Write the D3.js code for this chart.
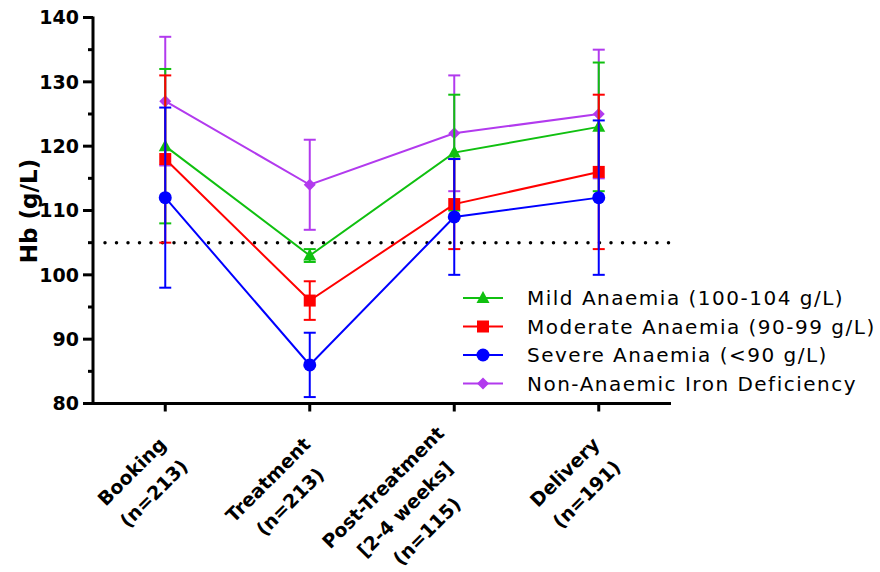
<!DOCTYPE html>
<html>
<head>
<meta charset="utf-8">
<script src="https://cdn.jsdelivr.net/npm/d3@7"></script>
<style>
  body { margin: 0; background: #fff; }
  svg { display: block; }
</style>
</head>
<body>
<svg width="880" height="572"></svg>
<script>
var categories = ["Booking|(n=213)", "Treatment|(n=213)", "Post-Treatment|[2-4 weeks]|(n=115)", "Delivery|(n=191)"];
var yTicks = [80, 90, 100, 110, 120, 130, 140];
var cutoff = 105;

var mildMean = [120, 103, 119, 123];
var mildSD = [12, 1, 9, 10];
var moderateMean = [118, 96, 111, 116];
var moderateSD = [13, 3, 7, 12];
var severeMean = [112, 86, 109, 112];
var severeSD = [14, 5, 9, 12];
var naidMean = [127, 114, 122, 125];
var naidSD = [10, 7, 9, 10];

var seriesNames = ["Mild Anaemia (100-104 g/L)", "Moderate Anaemia (90-99 g/L)", "Severe Anaemia (<90 g/L)", "Non-Anaemic Iron Deficiency"];

var svg = d3.select("svg");
var font = "'DejaVu Sans', sans-serif";

var plotLeft = 93, plotRight = 671, plotTop = 17.5, plotBottom = 403.5;

var x = d3.scalePoint().domain(categories).range([plotLeft, plotRight]).padding(0.5);
var y = d3.scaleLinear().domain([80, 140]).range([plotBottom, plotTop]);

var series = [
    {name: seriesNames[3], mean: naidMean, sd: naidSD, color: "#b23aee", shape: "diamond"},
    {name: seriesNames[0], mean: mildMean, sd: mildSD, color: "#10c010", shape: "triangle"},
    {name: seriesNames[1], mean: moderateMean, sd: moderateSD, color: "#ff0000", shape: "square"},
    {name: seriesNames[2], mean: severeMean, sd: severeSD, color: "#0000ff", shape: "circle"}
];

function drawMarker(g, shape, cx, cy, color)
{
    if(shape == "circle")
    {
        g.append("circle").attr("cx", cx).attr("cy", cy).attr("r", 6.5).attr("fill", color);
    }
    else if(shape == "square")
    {
        g.append("rect").attr("x", cx - 6).attr("y", cy - 6).attr("width", 12).attr("height", 12).attr("fill", color);
    }
    else if(shape == "triangle")
    {
        g.append("path").attr("d", "M" + cx + "," + (cy - 7) + "L" + (cx + 6.5) + "," + (cy + 5) + "L" + (cx - 6.5) + "," + (cy + 5) + "Z").attr("fill", color);
    }
    else
    {
        g.append("path").attr("d", "M" + cx + "," + (cy - 6) + "L" + (cx + 6) + "," + cy + "L" + cx + "," + (cy + 6) + "L" + (cx - 6) + "," + cy + "Z").attr("fill", color);
    }
}

//Dotted cutoff line
svg.append("line")
    .attr("x1", 105).attr("x2", plotRight)
    .attr("y1", y(cutoff)).attr("y2", y(cutoff))
    .attr("stroke", "#000")
    .attr("stroke-width", 3.5)
    .attr("stroke-linecap", "round")
    .attr("stroke-dasharray", "0,11.5");

//Series: error bars, lines, markers
series.forEach(function(s)
{
    var g = svg.append("g");
    categories.forEach(function(c, i)
    {
        var cx = x(c);
        var hi = y(s.mean[i] + s.sd[i]), lo = y(s.mean[i] - s.sd[i]);
        g.append("line").attr("x1", cx).attr("x2", cx).attr("y1", hi).attr("y2", lo)
            .attr("stroke", s.color).attr("stroke-width", 2);
        [hi, lo].forEach(function(yy)
        {
            g.append("line").attr("x1", cx - 6).attr("x2", cx + 6).attr("y1", yy).attr("y2", yy)
                .attr("stroke", s.color).attr("stroke-width", 2);
        });
    });
    var line = d3.line().x(function(d, i){ return x(categories[i]); }).y(function(d){ return y(d); });
    g.append("path").datum(s.mean).attr("d", line)
        .attr("fill", "none").attr("stroke", s.color).attr("stroke-width", 2);
    s.mean.forEach(function(d, i)
    {
        drawMarker(g, s.shape, x(categories[i]), y(d), s.color);
    });
});

//YAxis
var yaxis = svg.append("g");
yaxis.append("line").attr("x1", plotLeft).attr("x2", plotLeft).attr("y1", plotTop - 1).attr("y2", plotBottom + 1.5)
    .attr("stroke", "#000").attr("stroke-width", 3);
d3.range(80, 141, 5).forEach(function(v)
{
    var major = v % 10 == 0;
    yaxis.append("line").attr("x1", plotLeft - (major ? 10 : 5)).attr("x2", plotLeft)
        .attr("y1", y(v)).attr("y2", y(v)).attr("stroke", "#000").attr("stroke-width", 3);
});
yaxis.selectAll("text.tick").data(yTicks).enter().append("text")
    .attr("x", plotLeft - 14).attr("y", function(d){ return y(d); })
    .attr("dy", "0.36em")
    .attr("text-anchor", "end")
    .style("font-family", font).style("font-weight", "bold").style("font-size", "19px")
    .text(function(d){ return d; });

//YAxis Label
svg.append("text")
    .attr("transform", "translate(37,211) rotate(-90)")
    .attr("text-anchor", "middle")
    .style("font-family", font).style("font-weight", "bold").style("font-size", "23px")
    .text("Hb (g/L)");

//XAxis
var xaxis = svg.append("g");
xaxis.append("line").attr("x1", plotLeft - 1.5).attr("x2", plotRight).attr("y1", plotBottom).attr("y2", plotBottom)
    .attr("stroke", "#000").attr("stroke-width", 3);
categories.forEach(function(c)
{
    xaxis.append("line").attr("x1", x(c)).attr("x2", x(c)).attr("y1", plotBottom).attr("y2", plotBottom + 8)
        .attr("stroke", "#000").attr("stroke-width", 3);

    var lines = c.split("|");
    var lg = xaxis.append("g")
        .attr("transform", "translate(" + (x(c) + 13) + "," + (plotBottom + 53) + ") rotate(-45)");
    var texts = lines.map(function(t, i)
    {
        return lg.append("text")
            .attr("y", (i - (lines.length - 1) / 2) * 31)
            .attr("text-anchor", "middle")
            .style("font-family", font).style("font-weight", "bold").style("font-size", "19px")
            .text(t);
    });
    var maxW = d3.max(texts, function(t){ return t.node().getComputedTextLength(); });
    texts.forEach(function(t){ t.attr("x", -maxW / 2); });
});

//Legend
var legend = svg.append("g");
[series[1], series[2], series[3], series[0]].forEach(function(s, i)
{
    var ly = 298 + i * 28.5;
    legend.append("line").attr("x1", 463).attr("x2", 503).attr("y1", ly).attr("y2", ly)
        .attr("stroke", s.color).attr("stroke-width", 2);
    drawMarker(legend, s.shape, 483, ly, s.color);
    legend.append("text")
        .attr("x", 527).attr("y", ly).attr("dy", "0.36em")
        .style("font-family", font).style("font-size", "20px").style("letter-spacing", "1.5px")
        .text(s.name);
});
</script>
</body>
</html>
